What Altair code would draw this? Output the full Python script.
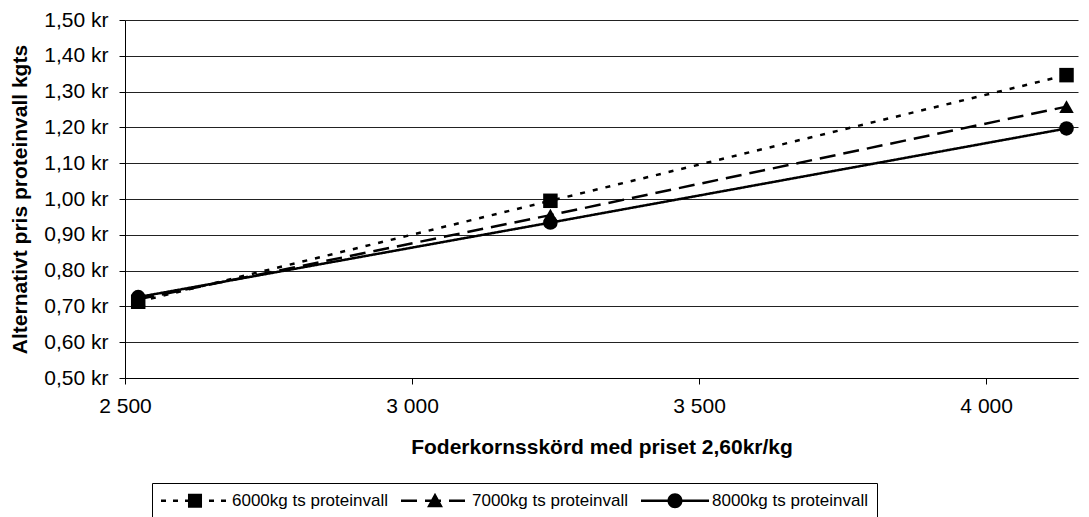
import altair as alt
import pandas as pd

# Harvest of feed grain (kg) and alternative protein-ley price (kr per kg DM)
harvest = [2523, 3241, 4140]
series_names = ["6000kg ts proteinvall", "7000kg ts proteinvall", "8000kg ts proteinvall"]
price_6000 = [0.713, 0.995, 1.346]
price_7000 = [0.720, 0.955, 1.258]
price_8000 = [0.726, 0.934, 1.197]

x_ticks = [2500, 3000, 3500, 4000]
y_ticks = [0.5, 0.6, 0.7, 0.8, 0.9, 1.0, 1.1, 1.2, 1.3, 1.4, 1.5]

rows = []
for name, values in zip(series_names, [price_6000, price_7000, price_8000]):
    for h, v in zip(harvest, values):
        rows.append({"serie": name, "skord": h, "pris": v})
df = pd.DataFrame(rows)

FONT = "Liberation Sans"
DASHES = [[5, 8], [16, 8], [1, 0]]

x_enc = alt.X(
    "skord:Q",
    scale=alt.Scale(domain=[2500, 4160], nice=False, zero=False),
    axis=alt.Axis(
        values=x_ticks,
        labelExpr="replace(format(datum.value, ',d'), ',', ' ')",
        labelFlush=False,
        title="Foderkornsskörd med priset 2,60kr/kg",
        grid=False,
        tickSize=6,
        labelPadding=11,
        titleY=69,
        titleBaseline="middle",
    ),
)
y_enc = alt.Y(
    "pris:Q",
    scale=alt.Scale(domain=[0.5, 1.5], nice=False, zero=False),
    axis=alt.Axis(
        values=y_ticks,
        labelExpr="replace(format(datum.value, '.2f'), '.', ',') + ' kr'",
        labelFlush=False,
        title="Alternativt pris proteinvall kgts",
        grid=True,
        tickSize=6,
        labelPadding=11,
        titleX=-105,
        titleY=179,
        titleAngle=270,
        titleAlign="center",
        titleBaseline="middle",
    ),
)

lines = alt.Chart(df).mark_line(color="black", strokeWidth=2.5).encode(
    x=x_enc,
    y=y_enc,
    strokeDash=alt.StrokeDash(
        "serie:N", scale=alt.Scale(domain=series_names, range=DASHES), legend=None
    ),
)

points = alt.Chart(df).mark_point(filled=True, color="black", opacity=1, size=210).encode(
    x=x_enc,
    y=y_enc,
    shape=alt.Shape(
        "serie:N",
        scale=alt.Scale(domain=series_names, range=["square", "triangle-up", "circle"]),
        legend=None,
    ),
)

# Legend keys: a dashed line segment (drawn as small filled bars) with the
# series marker in the middle. Path units are 6 px (symbolSize 144).
UNIT = 6.0
KEY_HALF = 34.0      # px
KEY_THICK = 2.5      # px


def key_path(dash, marker):
    parts = []
    t = KEY_THICK / 2 / UNIT
    pos = -KEY_HALF
    while pos < KEY_HALF - 0.01:
        end = min(pos + dash[0], KEY_HALF)
        a, b = pos / UNIT, end / UNIT
        parts.append(f"M{a:.3f},{-t:.3f}L{b:.3f},{-t:.3f}L{b:.3f},{t:.3f}L{a:.3f},{t:.3f}Z")
        pos += dash[0] + dash[1]
    return "".join(parts) + marker


markers = [
    "M-1.17,-1.17L1.17,-1.17L1.17,1.17L-1.17,1.17Z",
    "M0,-1.33L1.33,1.08L-1.33,1.08Z",
    "M-1.25,0A1.25,1.25,0,1,1,1.25,0A1.25,1.25,0,1,1,-1.25,0Z",
]
legend_paths = [
    key_path([5, 7], markers[0]),
    key_path([16, 8], markers[1]),
    key_path([68, 0], markers[2]),
]

legend_def = alt.Legend(
    orient="none",
    legendX=27,
    legendY=463,
    direction="horizontal",
    title=None,
    symbolSize=144,
    symbolOffset=25.5,
    labelOffset=28.5,
    symbolStrokeWidth=0,
    symbolFillColor="black",
    symbolOpacity=1,
    strokeColor="black",
    padding=9,
    columnPadding=12,
    labelFont=FONT,
    labelFontSize=17,
    labelColor="black",
    labelLimit=400,
)

legend_layer = alt.Chart(df).mark_point(filled=True, color="black", opacity=0).encode(
    x=x_enc,
    y=y_enc,
    shape=alt.Shape(
        "serie:N", scale=alt.Scale(domain=series_names, range=legend_paths), legend=legend_def
    ),
)

chart = (
    alt.layer(lines, points, legend_layer)
    .resolve_scale(shape="independent")
    .properties(
        width=953,
        height=358,
        autosize=alt.AutoSizeParams(type="none"),
        padding={"left": 125, "top": 20, "right": 11, "bottom": 139},
        background="white",
    )
    .configure_view(stroke=None)
    .configure_axis(
        labelFont=FONT,
        labelFontSize=21,
        labelColor="black",
        titleFont=FONT,
        titleFontSize=21,
        titleFontWeight="bold",
        titleColor="black",
        domainColor="black",
        tickColor="black",
        gridColor="#222222",
        gridWidth=1,
    )
)

chart.save("out.html", embed_options={"renderer": "svg", "actions": False})
